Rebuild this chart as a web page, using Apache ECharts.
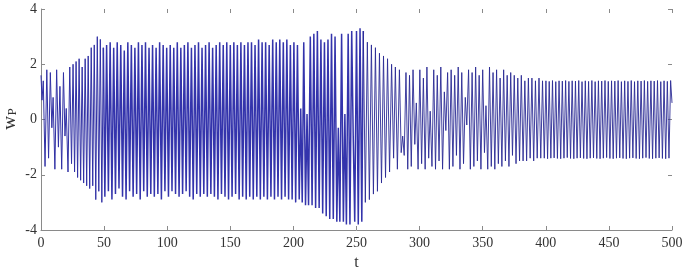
<!DOCTYPE html>
<html><head><meta charset="utf-8">
<script src="https://cdn.jsdelivr.net/npm/echarts@6/dist/echarts.min.js"></script>
<style>html,body{margin:0;padding:0;background:#fff}#c{width:685px;height:268px}</style>
</head><body><div id="c"></div>
<script>
// Extremes of w_P, segment by segment
const t1 = [0,0.8,1.8,3.2,4.6,6.0,7.4,8.6,9.6,11.0,12.4,13.8,15.0,16.4,17.8,19.0,20.0,21.4,22.8,24.2,25.4,26.6,27.8,29.0,30.2,31.4,32.6,33.8,35.0,36.2,37.4,38.6,39.8,41.0,42.2,43.4,44.6,45.8,47.0,48.2,49.4];
const w1 = [1.6,0.7,1.4,-1.7,1.8,-1.4,1.7,-0.3,0.8,-1.8,1.8,-1.0,1.2,-1.8,1.7,-0.6,0.4,-1.9,1.9,-1.6,2.0,-1.9,2.1,-2.1,2.2,-2.2,1.9,-2.3,2.2,-2.4,2.3,-2.5,2.6,-2.4,2.7,-2.9,3.0,-2.6,2.9,-3.0,2.6];

const t2 = [50.6,52.0,53.4,54.8,56.2,57.6,59.0,60.4,61.8,63.2,64.6,66.0,67.4,68.8,70.2,71.6,73.0,74.4,75.8,77.2,78.6,80.0,81.4,82.8,84.2,85.6,87.0,88.4,89.8,91.2,92.6,94.0,95.4,96.8,98.2,99.6,101.0,102.4,103.8,105.2,106.6,108.0,109.4,110.8,112.2,113.6,115.0,116.4,117.8,119.2,120.6,122.0,123.4,124.8,126.2,127.6,129.0,130.4,131.8,133.2,134.6,136.0,137.4,138.8,140.2,141.6,143.0,144.4,145.8,147.2,148.6,150.0,151.4,152.8,154.2,155.6,157.0,158.4,159.8,161.2,162.6,164.0,165.4,166.8,168.2,169.6,171.0,172.4,173.8,175.2,176.6,178.0,179.4,180.8,182.2,183.6,185.0,186.4,187.8,189.2,190.6,192.0,193.4,194.8,196.2,197.6,199.0,200.4,201.8,203.2,204.6,205.8,207.0,208.2,209.6,210.8,212.0,213.4,214.8,216.2,217.6,219.0,220.4,221.8,223.2,224.6,226.0,227.4,228.8,230.2,231.6,233.0,234.4,235.6,236.8,238.2,239.6,240.8,242.0,243.4,244.8,246.2,247.4,248.6,250.0,251.4,252.8,254.2,255.4];
const w2 = [-2.8,2.7,-2.6,2.8,-2.9,2.6,-2.7,2.8,-2.5,2.7,-2.8,2.5,-2.9,2.8,-2.6,2.7,-2.8,2.6,-2.7,2.8,-2.9,2.7,-2.6,2.8,-2.8,2.6,-2.7,2.7,-2.8,2.6,-2.7,2.8,-2.9,2.7,-2.6,2.6,-2.8,2.7,-2.6,2.6,-2.7,2.8,-2.8,2.6,-2.7,2.7,-2.6,2.8,-2.8,2.6,-2.9,2.7,-2.7,2.8,-2.8,2.6,-2.7,2.7,-2.8,2.8,-2.7,2.6,-2.8,2.7,-2.9,2.8,-2.7,2.7,-2.8,2.8,-2.9,2.7,-2.8,2.8,-2.7,2.7,-2.9,2.8,-2.8,2.7,-2.9,2.8,-2.8,2.8,-2.9,2.7,-2.8,2.9,-2.9,2.8,-2.8,2.8,-2.9,2.7,-2.8,2.9,-2.9,2.8,-2.8,2.9,-2.9,2.8,-2.8,2.9,-2.9,2.7,-2.9,2.8,-3.0,2.7,-2.9,0.4,-3.0,2.8,-3.1,0.2,-3.1,3.0,-3.1,3.1,-3.2,3.2,-3.2,2.9,-3.4,2.8,-3.5,2.9,-3.6,3.1,-3.6,3.0,-3.7,-0.3,-3.7,3.1,-3.7,0.2,-3.8,3.1,-3.8,3.2,-0.6,-3.7,3.2,-3.8,3.3,-3.7,3.2];

const t3 = [257.0,258.6,260.2,261.8,263.4,265.0,266.6,268.2,269.8,271.4,273.0,274.6,276.2,277.8,279.4,280.8,282.4,284.0,285.4,286.6,287.8,289.2];
const w3 = [-3.0,2.8,-2.9,2.7,-2.7,2.6,-2.6,2.4,-2.3,2.3,-2.1,2.2,-1.9,2.0,-1.4,1.9,-1.8,1.8,-1.2,-0.6,-1.3,1.7];

const t4 = [290.6,292.0,293.4,294.8,296.2,297.4,298.8,300.2,301.6,303.0,304.4,305.8,307.2,308.4,309.8,311.2,312.6,314.0,315.4,316.8,318.2,319.6,320.8,322.2,323.6,325.0,326.4,327.8,329.2,330.6,332.0,333.4,334.8,336.2,337.4,338.8,340.2,341.6,343.0,344.4,345.8,347.2,348.6,350.0,351.4,352.6,354.0,355.4,356.8,358.2,359.6,361.0,362.4,363.8,365.2,366.6,368.0,369.4,370.8,372.2,373.6,375.0,376.4,377.8,379.2,380.6,382.0,383.4,384.8,386.2,387.6,389.0,390.4,391.8,393.2,394.6,396.0,397.4,398.8];
const w4 = [-1.8,1.6,-1.7,1.8,-0.9,0.6,-1.8,1.8,-1.6,1.5,-1.8,1.9,-1.4,0.3,-1.7,1.8,-1.8,1.6,-1.5,1.9,-1.8,1.0,-0.4,1.7,-1.8,1.8,-1.7,1.6,-1.3,1.9,-1.8,1.7,-1.6,0.8,-0.2,1.8,-1.8,1.7,-1.7,1.9,-1.5,1.6,-1.8,1.8,-1.2,0.5,-1.8,1.9,-1.7,1.7,-1.8,1.8,-1.6,1.5,-1.7,1.8,-1.5,1.6,-1.7,1.7,-1.3,1.6,-1.6,1.5,-1.5,1.6,-1.5,1.4,-1.5,1.5,-1.4,1.5,-1.5,1.4,-1.4,1.5,-1.4,1.4,-1.4];

const t5 = [400.1,401.4,402.7,404.0,405.3,406.6,407.9,409.2,410.5,411.8,413.1,414.4,415.7,417.0,418.3,419.6,420.9,422.2,423.5,424.8,426.1,427.4,428.7,430.0,431.3,432.6,433.9,435.2,436.5,437.8,439.1,440.4,441.7,443.0,444.3,445.6,446.9,448.2,449.5,450.8,452.1,453.4,454.7,456.0,457.3,458.6,459.9,461.2,462.5,463.8,465.1,466.4,467.7,469.0,470.3,471.6,472.9,474.2,475.5,476.8,478.1,479.4,480.7,482.0,483.3,484.6,485.9,487.2,488.5,489.8,491.1,492.4,493.7,495.0,496.3,497.6,498.9,500.0];
const w5 = [1.40,-1.42,1.38,-1.40,1.41,-1.39,1.37,-1.41,1.40,-1.42,1.39,-1.40,1.41,-1.38,1.38,-1.41,1.40,-1.42,1.39,-1.40,1.41,-1.39,1.37,-1.41,1.40,-1.42,1.38,-1.40,1.41,-1.39,1.37,-1.41,1.40,-1.42,1.39,-1.40,1.41,-1.38,1.38,-1.41,1.40,-1.42,1.39,-1.40,1.41,-1.39,1.37,-1.41,1.40,-1.42,1.38,-1.40,1.41,-1.39,1.37,-1.41,1.40,-1.42,1.39,-1.40,1.41,-1.38,1.38,-1.41,1.40,-1.42,1.39,-1.40,1.41,-1.39,1.37,-1.41,1.40,-1.42,1.38,-1.40,1.41,0.6];

const xTicks = [0,50,100,150,200,250,300,350,400,450,500];
const yTicks = [-4,-2,0,2,4];

function pairs(ts, ws) { const n = Math.min(ts.length, ws.length), out = []; for (let i=0;i<n;i++) out.push([ts[i], ws[i]]); return out; }
const dStart = pairs(t1, w1);
const dDense = [dStart[dStart.length-1]].concat(pairs(t2, w2));
const dTail = [dDense[dDense.length-1]].concat(pairs(t3, w3), pairs(t4, w4), pairs(t5, w5));

const font = '"Liberation Serif", "Times New Roman", serif';
const axisGray = '#8a8a8a';
const chart = echarts.init(document.getElementById('c'), null, {renderer:'canvas'});
const baseX = {type:'value', min:xTicks[0], max:xTicks[xTicks.length-1], interval:50, splitLine:{show:false}};
const baseY = {type:'value', min:yTicks[0], max:yTicks[yTicks.length-1], interval:2, splitLine:{show:false}};
function lineSeries(d, w, c) { return {type:'line', data:d, showSymbol:false, silent:true, lineStyle:{width:w, color:c}}; }
chart.setOption({
  animation:false,
  grid:{left:41, right:13, top:9, bottom:38, containLabel:false, outerBoundsMode:'none'},
  xAxis:[
    Object.assign({}, baseX, {position:'bottom',
      axisLine:{show:true, onZero:false, lineStyle:{color:axisGray, width:1}},
      axisTick:{show:true, inside:true, length:4, lineStyle:{color:axisGray}},
      axisLabel:{color:'#333', fontFamily:font, fontSize:14, margin:6},
      name:'t', nameLocation:'middle', nameGap:20,
      nameTextStyle:{color:'#333', fontFamily:font, fontSize:16, verticalAlign:'top'}}),
    Object.assign({}, baseX, {position:'top',
      axisLine:{show:true, onZero:false, lineStyle:{color:'rgba(0,0,0,0)'}},
      axisTick:{show:true, inside:true, length:4, lineStyle:{color:axisGray}},
      axisLabel:{show:false}})
  ],
  yAxis:[
    Object.assign({}, baseY, {position:'left',
      axisLine:{show:true, onZero:false, lineStyle:{color:axisGray, width:1}},
      axisTick:{show:true, inside:true, length:4, lineStyle:{color:axisGray}},
      axisLabel:{color:'#333', fontFamily:font, fontSize:14, margin:4}}),
    Object.assign({}, baseY, {position:'right',
      axisLine:{show:true, onZero:false, lineStyle:{color:'rgba(0,0,0,0)'}},
      axisTick:{show:true, inside:true, length:4, lineStyle:{color:axisGray}},
      axisLabel:{show:false}})
  ],
  graphic:[
    {type:'text', x:10, y:123, rotation:Math.PI/2, style:{text:'w', fontSize:19, fontFamily:'Liberation Serif', fill:'#333', align:'center', verticalAlign:'middle'}},
    {type:'text', x:13, y:112, rotation:Math.PI/2, style:{text:'P', fontSize:13, fontFamily:'Liberation Serif', fill:'#333', align:'center', verticalAlign:'middle'}}
  ],
  series:[
    lineSeries(dStart, 1.0, '#3030a4'),
    lineSeries(dDense, 1.5, '#3434ac'),
    lineSeries(dTail, 0.9, '#2a2a94')
  ]
});
</script></body></html>
